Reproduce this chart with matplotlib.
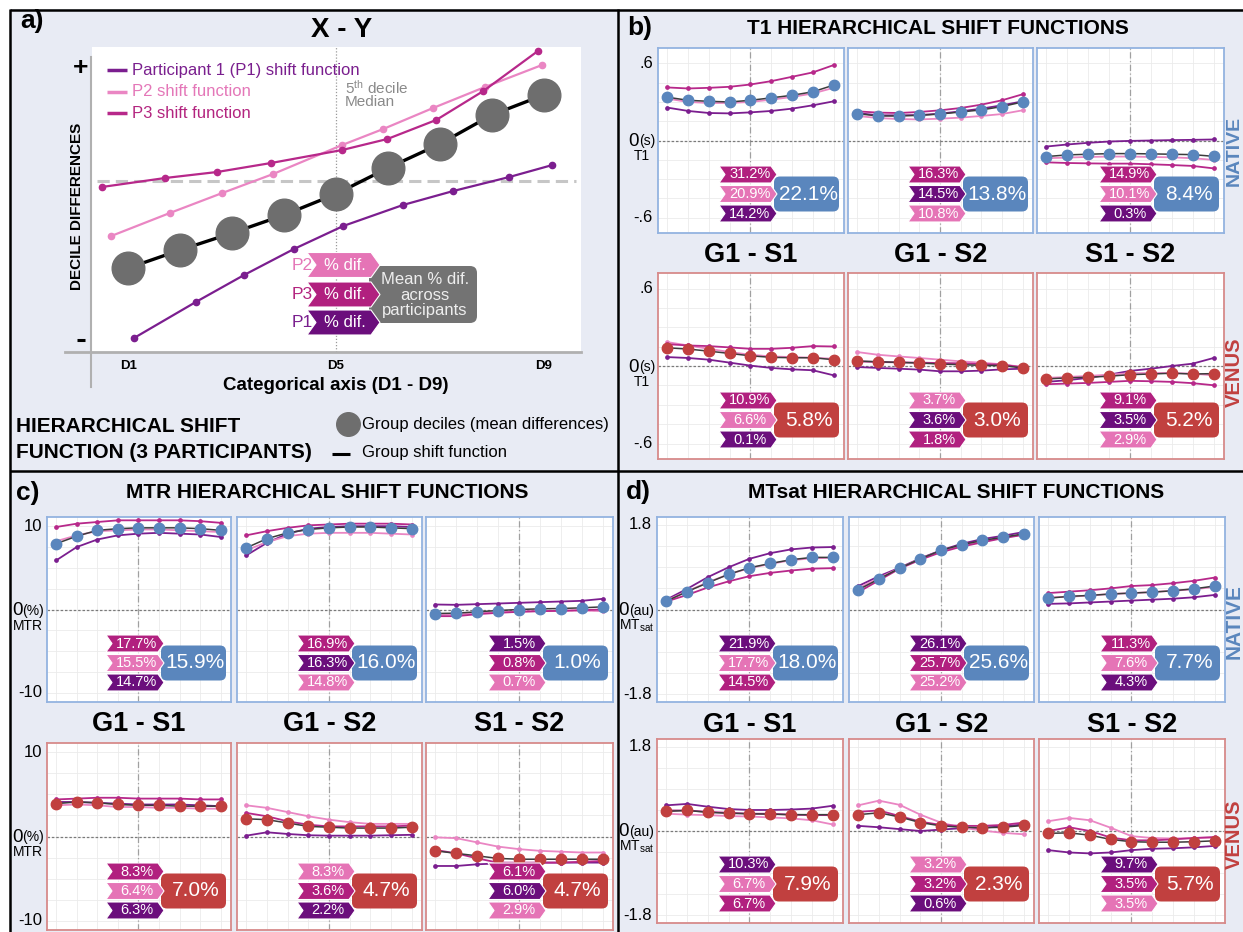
import matplotlib.pyplot as plt
from matplotlib.patches import Polygon, FancyBboxPatch, Rectangle
from matplotlib.transforms import blended_transform_factory, offset_copy

plt.rcParams['font.family'] = ['Liberation Sans', 'DejaVu Sans']
plt.rcParams['mathtext.default'] = 'regular'

W, H = 1243, 932
DECILES = [1, 2, 3, 4, 5, 6, 7, 8, 9]
COMPARISONS = ['G1 - S1', 'G1 - S2', 'S1 - S2']

# ---- panel a: schematic hierarchical shift function (arbitrary units)
group_y = [-1.74, -1.38, -1.04, -0.68, -0.26, 0.26, 0.74, 1.32, 1.72]
p1_x = [1.11, 2.30, 3.23, 4.19, 5.14, 6.29, 7.26, 8.34, 9.17]
p1_y = [-3.14, -2.42, -1.88, -1.36, -0.90, -0.48, -0.20, 0.08, 0.32]
p2_x = [0.67, 1.80, 2.81, 3.79, 5.12, 5.91, 6.87, 7.87, 8.97]
p2_y = [-1.10, -0.64, -0.24, 0.14, 0.72, 1.04, 1.46, 1.88, 2.32]
p3_x = [0.49, 1.71, 2.71, 3.75, 5.12, 5.99, 6.93, 7.84, 8.89]
p3_y = [-0.12, 0.06, 0.18, 0.36, 0.62, 0.84, 1.22, 1.80, 2.60]

# ---- decile differences: rows are group, P1, P2, P3
t1_nat_g1s1 = [[0.337, 0.313, 0.305, 0.300, 0.313, 0.332, 0.352, 0.379, 0.431],
               [0.256, 0.230, 0.214, 0.211, 0.219, 0.230, 0.248, 0.274, 0.305],
               [0.326, 0.300, 0.292, 0.292, 0.300, 0.318, 0.339, 0.366, 0.410],
               [0.413, 0.405, 0.410, 0.418, 0.436, 0.462, 0.496, 0.530, 0.587]]
t1_nat_g1s2 = [[0.209, 0.191, 0.191, 0.196, 0.206, 0.222, 0.238, 0.264, 0.300],
               [0.214, 0.196, 0.196, 0.198, 0.209, 0.227, 0.248, 0.274, 0.305],
               [0.191, 0.175, 0.167, 0.164, 0.170, 0.178, 0.191, 0.206, 0.235],
               [0.227, 0.217, 0.214, 0.222, 0.235, 0.253, 0.279, 0.313, 0.360]]
t1_nat_s1s2 = [[-0.125, -0.112, -0.107, -0.102, -0.102, -0.104, -0.107, -0.110, -0.123],
               [-0.047, -0.031, -0.018, -0.008, -0.003, 0.0, 0.003, 0.005, 0.008],
               [-0.138, -0.133, -0.128, -0.125, -0.125, -0.128, -0.131, -0.138, -0.151],
               [-0.170, -0.175, -0.178, -0.180, -0.180, -0.185, -0.191, -0.198, -0.217]]
t1_ven_g1s1 = [[0.141, 0.131, 0.115, 0.097, 0.079, 0.067, 0.064, 0.064, 0.049],
               [0.069, 0.062, 0.049, 0.026, 0.003, -0.015, -0.026, -0.033, -0.072],
               [0.185, 0.159, 0.133, 0.108, 0.087, 0.074, 0.069, 0.064, 0.056],
               [0.169, 0.159, 0.154, 0.144, 0.133, 0.133, 0.141, 0.154, 0.151]]
t1_ven_g1s2 = [[0.038, 0.033, 0.028, 0.023, 0.015, 0.010, 0.005, 0.003, -0.015],
               [-0.008, -0.015, -0.021, -0.028, -0.041, -0.041, -0.036, -0.026, -0.021],
               [0.108, 0.087, 0.074, 0.062, 0.049, 0.036, 0.026, 0.013, -0.008],
               [0.036, 0.031, 0.028, 0.026, 0.023, 0.021, 0.015, 0.010, -0.010]]
t1_ven_s1s2 = [[-0.100, -0.092, -0.087, -0.079, -0.067, -0.062, -0.056, -0.062, -0.059],
               [-0.123, -0.110, -0.092, -0.067, -0.038, -0.021, 0.0, 0.018, 0.062],
               [-0.092, -0.085, -0.077, -0.067, -0.056, -0.054, -0.054, -0.059, -0.072],
               [-0.141, -0.136, -0.131, -0.123, -0.115, -0.118, -0.123, -0.133, -0.149]]

mtr_nat_g1s1 = [[7.9, 8.8, 9.5, 9.7, 9.8, 9.8, 9.8, 9.7, 9.5],
                [5.9, 7.5, 8.4, 8.9, 9.1, 9.2, 9.1, 9.0, 8.7],
                [8.2, 8.9, 9.4, 9.5, 9.6, 9.6, 9.5, 9.4, 9.3],
                [9.9, 10.3, 10.5, 10.7, 10.7, 10.7, 10.7, 10.6, 10.4]]
mtr_nat_g1s2 = [[7.4, 8.5, 9.2, 9.6, 9.8, 9.9, 9.9, 9.8, 9.7],
                [6.5, 8.0, 9.1, 9.7, 9.9, 10.0, 10.0, 10.0, 9.9],
                [7.1, 8.1, 8.8, 9.1, 9.2, 9.2, 9.2, 9.1, 9.0],
                [8.9, 9.4, 9.8, 10.1, 10.2, 10.3, 10.3, 10.3, 10.2]]
mtr_nat_s1s2 = [[-0.48, -0.44, -0.28, -0.12, 0.0, 0.08, 0.12, 0.2, 0.32],
                [0.6, 0.56, 0.64, 0.72, 0.8, 0.88, 0.96, 1.04, 1.28],
                [-0.64, -0.6, -0.44, -0.32, -0.24, -0.2, -0.16, -0.12, -0.2],
                [-0.8, -0.8, -0.56, -0.4, -0.28, -0.2, -0.16, -0.08, 0.0]]
mtr_ven_g1s1 = [[3.9, 4.1, 4.0, 3.8, 3.7, 3.7, 3.6, 3.6, 3.6],
                [4.1, 4.1, 4.0, 3.9, 3.8, 3.8, 3.8, 3.7, 3.6],
                [3.7, 3.8, 3.7, 3.5, 3.5, 3.4, 3.4, 3.3, 3.3],
                [4.4, 4.5, 4.6, 4.6, 4.5, 4.5, 4.5, 4.4, 4.4]]
mtr_ven_g1s2 = [[2.1, 2.0, 1.6, 1.2, 1.1, 1.0, 1.0, 1.0, 1.1],
                [0.1, 0.5, 0.3, 0.15, 0.1, 0.1, 0.1, 0.15, 0.2],
                [3.7, 3.4, 2.9, 2.4, 2.0, 1.7, 1.5, 1.5, 1.5],
                [2.8, 2.4, 1.8, 1.4, 1.2, 1.2, 1.2, 1.2, 1.3]]
mtr_ven_s1s2 = [[-1.7, -2.0, -2.3, -2.6, -2.7, -2.7, -2.7, -2.7, -2.7],
                [-3.5, -3.5, -3.3, -3.2, -3.2, -3.1, -3.1, -3.1, -3.1],
                [-0.1, -0.2, -0.7, -1.2, -1.5, -1.7, -1.8, -1.9, -1.9],
                [-1.6, -2.0, -2.6, -3.1, -3.1, -3.1, -3.1, -3.0, -2.9]]

mts_nat_g1s1 = [[0.18, 0.38, 0.57, 0.75, 0.89, 0.98, 1.06, 1.11, 1.11],
                [0.21, 0.44, 0.69, 0.90, 1.08, 1.20, 1.28, 1.32, 1.33],
                [0.19, 0.39, 0.58, 0.75, 0.88, 0.97, 1.05, 1.09, 1.10],
                [0.17, 0.31, 0.47, 0.60, 0.71, 0.78, 0.83, 0.87, 0.88]]
mts_nat_g1s2 = [[0.42, 0.65, 0.88, 1.08, 1.26, 1.38, 1.47, 1.54, 1.61],
                [0.50, 0.71, 0.89, 1.09, 1.26, 1.40, 1.50, 1.57, 1.65],
                [0.45, 0.67, 0.88, 1.08, 1.25, 1.36, 1.45, 1.53, 1.60],
                [0.37, 0.62, 0.87, 1.06, 1.22, 1.34, 1.43, 1.52, 1.59]]
mts_nat_s1s2 = [[0.24, 0.28, 0.30, 0.33, 0.35, 0.37, 0.40, 0.44, 0.50],
                [0.12, 0.13, 0.15, 0.17, 0.19, 0.21, 0.23, 0.26, 0.31],
                [0.26, 0.27, 0.30, 0.33, 0.35, 0.37, 0.40, 0.43, 0.48],
                [0.35, 0.38, 0.41, 0.45, 0.50, 0.52, 0.56, 0.61, 0.68]]
mts_ven_g1s1 = [[0.42, 0.44, 0.40, 0.38, 0.37, 0.36, 0.35, 0.35, 0.35],
                [0.55, 0.58, 0.52, 0.47, 0.45, 0.45, 0.46, 0.48, 0.54],
                [0.37, 0.35, 0.34, 0.32, 0.31, 0.29, 0.27, 0.23, 0.14],
                [0.44, 0.44, 0.41, 0.39, 0.37, 0.37, 0.35, 0.34, 0.34]]
mts_ven_g1s2 = [[0.35, 0.39, 0.30, 0.18, 0.11, 0.08, 0.07, 0.08, 0.12],
                [0.11, 0.08, 0.04, 0.0, 0.03, 0.06, 0.07, 0.10, 0.14],
                [0.55, 0.65, 0.56, 0.35, 0.18, 0.07, 0.01, -0.04, -0.07],
                [0.41, 0.44, 0.32, 0.20, 0.13, 0.11, 0.11, 0.13, 0.18]]
mts_ven_s1s2 = [[-0.05, -0.04, -0.09, -0.18, -0.23, -0.24, -0.24, -0.23, -0.21],
                [-0.41, -0.46, -0.48, -0.46, -0.41, -0.38, -0.37, -0.35, -0.32],
                [0.21, 0.28, 0.23, 0.07, -0.11, -0.15, -0.16, -0.15, -0.14],
                [0.0, 0.08, 0.0, -0.14, -0.20, -0.20, -0.18, -0.15, -0.13]]

# ---- percent differences per participant (display order) and their mean
t1_nat_pct = [[(3, 31.2), (2, 20.9), (1, 14.2)], [(3, 16.3), (1, 14.5), (2, 10.8)], [(3, 14.9), (2, 10.1), (1, 0.3)]]
t1_nat_mean = [22.1, 13.8, 8.4]
t1_ven_pct = [[(3, 10.9), (2, 6.6), (1, 0.1)], [(2, 3.7), (1, 3.6), (3, 1.8)], [(3, 9.1), (1, 3.5), (2, 2.9)]]
t1_ven_mean = [5.8, 3.0, 5.2]
mtr_nat_pct = [[(3, 17.7), (2, 15.5), (1, 14.7)], [(3, 16.9), (1, 16.3), (2, 14.8)], [(1, 1.5), (3, 0.8), (2, 0.7)]]
mtr_nat_mean = [15.9, 16.0, 1.0]
mtr_ven_pct = [[(3, 8.3), (2, 6.4), (1, 6.3)], [(2, 8.3), (3, 3.6), (1, 2.2)], [(3, 6.1), (1, 6.0), (2, 2.9)]]
mtr_ven_mean = [7.0, 4.7, 4.7]
mts_nat_pct = [[(1, 21.9), (2, 17.7), (3, 14.5)], [(1, 26.1), (3, 25.7), (2, 25.2)], [(3, 11.3), (2, 7.6), (1, 4.3)]]
mts_nat_mean = [18.0, 25.6, 7.7]
mts_ven_pct = [[(1, 10.3), (2, 6.7), (3, 6.7)], [(2, 3.2), (3, 3.2), (1, 0.6)], [(1, 9.7), (3, 3.5), (2, 3.5)]]
mts_ven_mean = [7.9, 2.3, 5.7]

# ---- colours
BG = '#E8EBF4'
BADGE = {1: '#6B0E7C', 2: '#E574B6', 3: '#B1207F'}
LINE = {1: '#7B1E8F', 2: '#EA86C3', 3: '#B7288A'}
TEXT = {1: '#7A1F8E', 2: '#E477B8', 3: '#B3247F'}
NATIVE = '#5A86BD'
VENUS = '#C1403F'
NATIVE_EDGE = '#93B3E0'
VENUS_EDGE = '#D78A8A'

fig = plt.figure(figsize=(W / 100, H / 100), dpi=100)
fig.patch.set_facecolor('white')


def px_rect(x0, y0, x1, y1):
    return [x0 / W, 1 - y1 / H, (x1 - x0) / W, (y1 - y0) / H]


bg = fig.add_axes([0, 0, 1, 1], zorder=-5)
bg.set_xlim(0, W)
bg.set_ylim(H, 0)
bg.axis('off')
bg.add_patch(Rectangle((10, 9), W - 10, H - 9, fc=BG, ec='none'))

top = fig.add_axes([0, 0, 1, 1], zorder=20)
top.set_xlim(0, W)
top.set_ylim(H, 0)
top.axis('off')
for xs, ys in [((10, W), (9.5, 9.5)), ((10.5, 10.5), (9, H)),
               ((10, W), (471, 471)), ((618, 618), (9, H))]:
    top.plot(xs, ys, color='black', lw=1.8, solid_capstyle='butt')


def chevron(x0, x1, yc, h, color, notch):
    pts = [(x0, yc - h / 2), (x1 - notch, yc - h / 2), (x1, yc),
           (x1 - notch, yc + h / 2), (x0, yc + h / 2), (x0 + notch, yc)]
    top.add_patch(Polygon(pts, closed=True, fc=color, ec='white', lw=0.8))


# ================= panel a =================
ax = fig.add_axes(px_rect(92, 47, 581, 352), zorder=1)
ax.set_facecolor('white')
ax.set_xlim(0.30, 9.72)
ax.set_ylim(-3.42, 2.68)
for s in ax.spines.values():
    s.set_visible(False)
ax.set_yticks([])
ax.set_xticks([1, 5, 9], ['D1', 'D5', 'D9'], fontweight='bold', fontsize=9.5)
ax.tick_params(axis='x', length=0, pad=6)
ax.axhline(0, xmin=0.01, xmax=0.99, color='#C6C6C6', lw=2.2, dashes=(4, 2))
ax.axvline(5, color='#9A9A9A', lw=0.9, ls=(0, (1, 1.5)))
ax.plot(p1_x, p1_y, '-o', color=LINE[1], lw=1.6, ms=4.5)
ax.plot(p2_x, p2_y, '-o', color=LINE[2], lw=1.6, ms=4.5)
ax.plot(p3_x, p3_y, '-o', color=LINE[3], lw=1.6, ms=4.5)
ax.plot(DECILES, group_y, '-', color='black', lw=2.4, zorder=3)
ax.plot(DECILES, group_y, 'o', color='#6E6E6E', ms=23.5, zorder=4)

top.plot([91.5, 91.5], [57, 387], color='#B0B0B0', lw=1.5)
top.plot([65, 581], [352, 352], color='#B0B0B0', lw=2)
top.text(20, 21, 'a)', fontsize=19, fontweight='bold', ha='left', va='center')
top.text(342, 30, 'X - Y', fontsize=20, fontweight='bold', ha='center', va='center')
top.text(81, 68, '+', fontsize=19, fontweight='bold', ha='center', va='center')
top.plot([77, 85], [340, 340], color='black', lw=2.2, solid_capstyle='butt')
top.text(77, 206, 'DECILE DIFFERENCES', fontsize=11, fontweight='bold', rotation=90,
         ha='center', va='center')
top.text(336, 386, 'Categorical axis (D1 - D9)', fontsize=13.5, fontweight='bold',
         ha='center', va='center')

legend_rows = [(1, 'Participant 1 (P1) shift function', 70),
               (2, 'P2 shift function', 92), (3, 'P3 shift function', 113)]
for pid, label, yy in legend_rows:
    top.plot([107, 127], [yy, yy], color=LINE[pid], lw=2.5, solid_capstyle='butt')
    top.text(132, yy, label, color=TEXT[pid], fontsize=12, ha='left', va='center')
top.text(345, 88, '5$^{th}$ decile', color='#8A8A8A', fontsize=11, ha='left', va='center')
top.text(345, 102, 'Median', color='#8A8A8A', fontsize=11, ha='left', va='center')

top.add_patch(FancyBboxPatch((369, 266), 108, 57, boxstyle='round,pad=0,rounding_size=7',
                             fc='#737373', ec='none'))
top.text(425, 295, 'Mean % dif.\nacross\nparticipants', color='#EEEEEE', fontsize=12,
         ha='center', va='center', linespacing=1.05)
for pid, yc in [(2, 265), (3, 294.5), (1, 322.5)]:
    chevron(307, 380, yc, 25, BADGE[pid], 9)
    top.text(345, yc, '% dif.', color='white', fontsize=12, ha='center', va='center')
    top.text(302, yc, f'P{pid}', color=TEXT[pid], fontsize=12.5, ha='center', va='center')

top.text(16, 426, 'HIERARCHICAL SHIFT', fontsize=15, fontweight='bold', ha='left', va='center')
top.text(16, 452, 'FUNCTION (3 PARTICIPANTS)', fontsize=15, fontweight='bold',
         ha='left', va='center')
top.plot([348], [424], 'o', color='#6E6E6E', ms=17)
top.text(362, 424, 'Group deciles (mean differences)', fontsize=12, ha='left', va='center')
top.plot([332, 350], [454, 454], color='black', lw=2.2, solid_capstyle='butt')
top.text(362, 453, 'Group shift function', fontsize=12, ha='left', va='center')


# ================= panels b, c, d =================
def small_axes(rect, lim, step, edge):
    x0, y0, x1, y1 = rect
    sa = fig.add_axes(px_rect(x0, y0, x1, y1), zorder=2)
    sa.set_facecolor('white')
    sa.set_xlim(0.55, 9.5)
    sa.set_ylim(-lim, lim)
    sa.set_xticks(DECILES)
    sa.set_yticks([k * step for k in range(-4, 5)])
    sa.tick_params(length=0, labelbottom=False, labelleft=False)
    sa.grid(color='#EBEBEB', lw=0.6)
    for s in sa.spines.values():
        s.set_color(edge)
        s.set_linewidth(1.3)
    sa.axvline(5, color='#A0A0A0', lw=0.9, dashes=(5, 2, 1, 2))
    sa.axhline(0, color='#7A7A7A', lw=0.9, dashes=(2, 1.5))
    return sa


def badges(rect, pcts, mean, color):
    x0, y0, x1, y1 = rect
    bx1 = x1 - 5
    bx0 = bx1 - 65
    cx1 = bx0 + 3
    cx0 = cx1 - 58
    h, pitch = 17, 19.5
    ymid = y1 - 11 - h / 2 - pitch
    top.add_patch(FancyBboxPatch((bx0, ymid - 17.5), bx1 - bx0, 35,
                                 boxstyle='round,pad=0,rounding_size=6', fc=color, ec='none'))
    top.text((bx0 + bx1) / 2 + 2, ymid, f'{mean:.1f}%', color='white', fontsize=15,
             ha='center', va='center')
    for k, (pid, val) in enumerate(pcts):
        yc = ymid + (k - 1) * pitch
        chevron(cx0, cx1, yc, h, BADGE[pid], 6)
        top.text((cx0 + cx1) / 2 + 2, yc, f'{val:.1f}%', color='white', fontsize=10.5,
                 ha='center', va='center')


def y_labels(sa, value, tick_text, unit, name):
    base = blended_transform_factory(sa.transAxes, sa.transData)
    rend = fig.canvas.get_renderer()

    def at(dx, dy):
        return offset_copy(base, fig=fig, x=dx, y=dy, units='dots')

    sa.text(0, value, tick_text[0], transform=at(-5, 0), ha='right', va='center', fontsize=12)
    sa.text(0, -value, tick_text[1], transform=at(-5, 0), ha='right', va='center', fontsize=12)
    u = sa.text(0, 0, unit, transform=at(-3, -1), ha='right', va='center', fontsize=10)
    wu = u.get_window_extent(rend).width
    z = sa.text(0, 0, '0', transform=at(-3 - wu, -1), ha='right', va='center', fontsize=13.5)
    wz = z.get_window_extent(rend).width
    sa.text(0, 0, name, transform=at(-3 - (wu + wz) / 2, -16), ha='center', va='center',
            fontsize=10)


def block(cols, rows, curves, pcts, means, lim, step, tick_text, unit, name):
    for r, (y0, y1) in enumerate(rows):
        color = NATIVE if r == 0 else VENUS
        edge = NATIVE_EDGE if r == 0 else VENUS_EDGE
        for c, (x0, x1) in enumerate(cols):
            rect = (x0, y0, x1, y1)
            sa = small_axes(rect, lim, step, edge)
            grp, q1, q2, q3 = curves[r][c]
            for pid, ys in [(1, q1), (2, q2), (3, q3)]:
                sa.plot(DECILES, ys, '-o', color=LINE[pid], lw=1.3, ms=2.4, zorder=3)
            sa.plot(DECILES, grp, '-', color='#3C3C3C', lw=1.1, zorder=4)
            sa.plot(DECILES, grp, 'o', color=color, ms=7.5, zorder=5)
            badges(rect, pcts[r][c], means[r][c], color)
            if c == 0:
                y_labels(sa, 4 * step, tick_text, unit, name)


# panel b: T1
b_cols = [(658, 844), (848, 1033), (1037, 1224)]
b_rows = [(48, 233), (273, 459)]
block(b_cols, b_rows,
      [[t1_nat_g1s1, t1_nat_g1s2, t1_nat_s1s2], [t1_ven_g1s1, t1_ven_g1s2, t1_ven_s1s2]],
      [t1_nat_pct, t1_ven_pct], [t1_nat_mean, t1_ven_mean],
      0.72, 0.15, ('.6', '-.6'), '(s)', 'T1')
top.text(627, 28, 'b)', fontsize=19, fontweight='bold', ha='left', va='center')
top.text(938, 28, 'T1 HIERARCHICAL SHIFT FUNCTIONS', fontsize=15, fontweight='bold',
         ha='center', va='center')
for (x0, x1), label in zip(b_cols, COMPARISONS):
    top.text((x0 + x1) / 2, 255, label, fontsize=19.5, fontweight='bold', ha='center', va='center')
top.text(1234, 151, 'NATIVE', color=NATIVE, fontsize=14, fontweight='bold', rotation=90,
         ha='center', va='center')
top.text(1234, 372, 'VENUS', color=VENUS, fontsize=14.5, fontweight='bold', rotation=90,
         ha='center', va='center')

# panel c: MTR
c_cols = [(47, 231), (237, 422), (426, 613)]
c_rows = [(517, 702), (743, 930)]
block(c_cols, c_rows,
      [[mtr_nat_g1s1, mtr_nat_g1s2, mtr_nat_s1s2], [mtr_ven_g1s1, mtr_ven_g1s2, mtr_ven_s1s2]],
      [mtr_nat_pct, mtr_ven_pct], [mtr_nat_mean, mtr_ven_mean],
      11.1, 2.5, ('10', '-10'), '(%)', 'MTR')
top.text(16, 493, 'c)', fontsize=19, fontweight='bold', ha='left', va='center')
top.text(327, 493, 'MTR HIERARCHICAL SHIFT FUNCTIONS', fontsize=15, fontweight='bold',
         ha='center', va='center')
for (x0, x1), label in zip(c_cols, COMPARISONS):
    top.text((x0 + x1) / 2, 724, label, fontsize=19.5, fontweight='bold', ha='center', va='center')

# panel d: MTsat
d_cols = [(657, 843), (849, 1034), (1039, 1225)]
d_rows = [(517, 702), (739, 923)]
block(d_cols, d_rows,
      [[mts_nat_g1s1, mts_nat_g1s2, mts_nat_s1s2], [mts_ven_g1s1, mts_ven_g1s2, mts_ven_s1s2]],
      [mts_nat_pct, mts_ven_pct], [mts_nat_mean, mts_ven_mean],
      1.97, 0.45, ('1.8', '-1.8'), '(au)', 'MT$_{sat}$')
top.text(626, 492, 'd)', fontsize=19, fontweight='bold', ha='left', va='center')
top.text(956, 492, 'MTsat HIERARCHICAL SHIFT FUNCTIONS', fontsize=15, fontweight='bold',
         ha='center', va='center')
for (x0, x1), label in zip(d_cols, COMPARISONS):
    top.text((x0 + x1) / 2, 725, label, fontsize=19.5, fontweight='bold', ha='center', va='center')
top.text(1234, 622, 'NATIVE', color=NATIVE, fontsize=15, fontweight='bold', rotation=90,
         ha='center', va='center')
top.text(1234, 834, 'VENUS', color=VENUS, fontsize=14.5, fontweight='bold', rotation=90,
         ha='center', va='center')

fig.savefig('out.png', dpi=100)
